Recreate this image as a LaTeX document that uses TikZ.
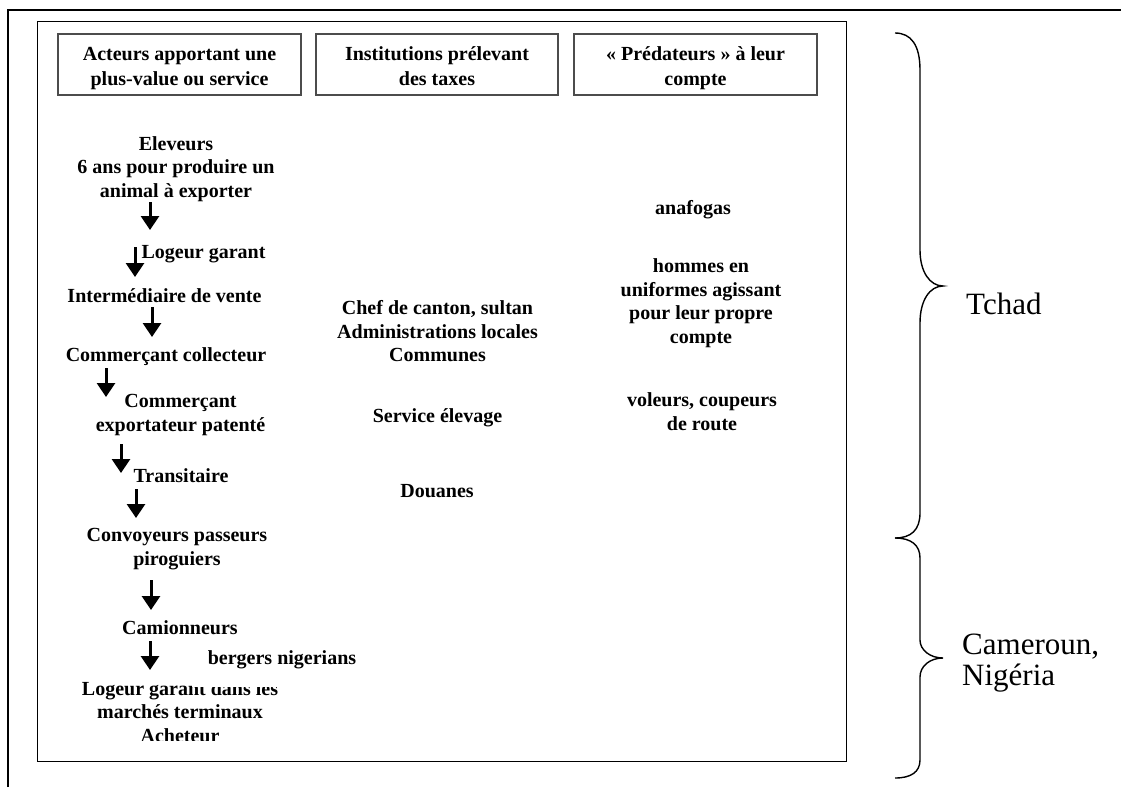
\documentclass[tikz,border=0pt]{standalone}
\usepackage{fontspec}
\setmainfont{Liberation Serif}
\usetikzlibrary{arrows.meta}
\begin{document}
\begin{tikzpicture}[x=1pt,y=-1pt,
  lbl/.style={font=\fontsize{20}{23.5}\selectfont\bfseries, align=center, inner sep=0pt},
  hdrbox/.style={draw=black!70, line width=1.2pt, minimum width=243pt, minimum height=61pt, inner sep=0pt},
  hdrtxt/.style={font=\fontsize{20}{24.5}\selectfont\bfseries, align=center, inner sep=0pt},
  flow/.style={line width=3pt, -{Triangle[width=18pt,length=14pt]}},
  region/.style={font=\fontsize{31}{31}\selectfont, align=left, anchor=west, inner sep=0pt},
  brace/.style={line width=1.4pt}]
\useasboundingbox (0,0) rectangle (1121,787);

% frames
\draw[line width=1.6pt] (8,787) -- (8,10) -- (1121,10);
\draw[line width=1pt] (37,21) rectangle (846,761);

% headers
\node[hdrbox] (h1) at (179.5,64.5) {};
\node[hdrbox, minimum width=242pt] (h2) at (437,64.5) {};
\node[hdrbox] (h3) at (695.5,64.5) {};
\node[hdrtxt] (h1t) at (179.5,68) {Acteurs apportant une\strut\\plus-value ou service\strut};
\node[hdrtxt] (h2t) at (437,68) {Institutions prélevant\strut\\des taxes\strut};
\node[hdrtxt] (h3t) at (695.5,68) {« Prédateurs » à leur\strut\\compte\strut};

% left column
\node[lbl] (elev) at (176,169) {Eleveurs\strut\\6 ans pour produire un\strut\\animal à exporter\strut};
\node[lbl] (log1) at (203.5,253.5) {Logeur garant\strut};
\node[lbl] (inter) at (164.5,298) {Intermédiaire de vente\strut};
\node[lbl] (coll) at (166,357) {Commerçant collecteur\strut};
\node[lbl] (expo) at (180.5,415) {Commerçant\strut\\exportateur patenté\strut};
\node[lbl] (trans) at (181,478) {Transitaire\strut};
\node[lbl] (conv) at (177,549) {Convoyeurs passeurs\strut\\piroguiers\strut};
\node[lbl] (cam) at (180,630) {Camionneurs\strut};
\begin{scope}
  \clip (37,21) rectangle (846,740);
  \node[lbl] (logT) at (180,714) {Logeur garant dans les\strut\\marchés terminaux\strut\\Acheteur\strut};
\end{scope}
\fill[white] (192,671) rectangle (362,687);
\node[lbl] (berg) at (282,660) {bergers nigerians\strut};

% arrows
\coordinate (a1s) at (150,202); \coordinate (a1e) at (150,230);
\coordinate (a2s) at (135,247); \coordinate (a2e) at (135,277);
\coordinate (a3s) at (152,307); \coordinate (a3e) at (152,337);
\coordinate (a4s) at (106,368); \coordinate (a4e) at (106,397);
\coordinate (a5s) at (121,444); \coordinate (a5e) at (121,473);
\coordinate (a6s) at (136,489); \coordinate (a6e) at (136,518);
\coordinate (a7s) at (151,580); \coordinate (a7e) at (151,610);
\coordinate (a8s) at (150,641); \coordinate (a8e) at (150,670);
\foreach \i in {1,...,8} \draw[flow] (a\i s) -- (a\i e);

% middle column
\node[lbl] (chef) at (437.5,333.5) {Chef de canton, sultan\strut\\Administrations locales\strut\\Communes\strut};
\node[lbl] (serv) at (437.5,418) {Service élevage\strut};
\node[lbl] (douan) at (437,493) {Douanes\strut};

% right column
\node[lbl] (anaf) at (693,210) {anafogas\strut};
\node[lbl] (homm) at (701,303.5) {hommes en\strut\\uniformes agissant\strut\\pour leur propre\strut\\compte\strut};
\node[lbl] (vol) at (702,414) {voleurs, coupeurs\strut\\de route\strut};

% braces
\draw[brace] (895,33) .. controls (911,33) and (920,45) .. (920,70) -- (920,250)
  .. controls (920,272) and (930,286) .. (943,286)
  .. controls (930,286) and (920,300) .. (920,323) -- (920,513)
  .. controls (920,530) and (911,538) .. (895,538);
\draw[brace] (895,538) .. controls (911,538) and (920,545) .. (920,558) -- (920,640)
  .. controls (920,650) and (930,658) .. (943,658)
  .. controls (930,658) and (920,666) .. (920,677) -- (920,760)
  .. controls (920,772) and (911,778) .. (895,778);

\node[region] (tchad) at (966,304) {Tchad};
\node[region] (cam2) at (962,663) {Cameroun,\\Nigéria};
\end{tikzpicture}
\end{document}
